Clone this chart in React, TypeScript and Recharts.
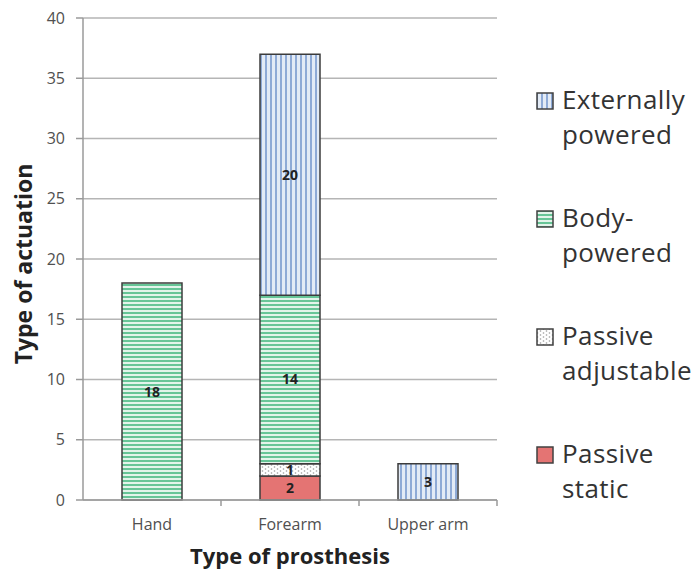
import React from 'react';
import { BarChart, Bar, XAxis, YAxis, CartesianGrid, LabelList, Label } from 'recharts';

const categories = ['Hand', 'Forearm', 'Upper arm'];
const passiveStatic = [0, 2, 0];
const passiveAdjustable = [0, 1, 0];
const bodyPowered = [18, 14, 0];
const externallyPowered = [0, 20, 3];
const yTicks = [0, 5, 10, 15, 20, 25, 30, 35, 40];

const data = categories.map((name, i) => ({
  name,
  passiveStatic: passiveStatic[i],
  passiveAdjustable: passiveAdjustable[i],
  bodyPowered: bodyPowered[i],
  externallyPowered: externallyPowered[i],
}));

const FONT = '"Open Sans", sans-serif';
const WIDTH = 694;
const HEIGHT = 575;
const X_HEIGHT = 75;
const MARGIN = { top: 18, right: 197, bottom: 0, left: 0 };
const Y_WIDTH = 83;
const BAND = (WIDTH - MARGIN.left - MARGIN.right - Y_WIDTH) / categories.length;

const series = [
  { key: 'externallyPowered', name: 'Externally powered', lines: ['Externally', 'powered'], fill: 'url(#patExternal)' },
  { key: 'bodyPowered', name: 'Body-powered', lines: ['Body-', 'powered'], fill: 'url(#patBody)' },
  { key: 'passiveAdjustable', name: 'Passive adjustable', lines: ['Passive', 'adjustable'], fill: 'url(#patAdjustable)' },
  { key: 'passiveStatic', name: 'Passive static', lines: ['Passive', 'static'], fill: '#e47473' },
];

const hideZero = (v: any) => (v ? v : '');

const XTick = (props: any) => {
  const { x, y, payload } = props;
  const edge = x + BAND / 2;
  return (
    <g>
      <line x1={edge} x2={edge} y1={y - 8} y2={y - 2} stroke="#9a9a9a" strokeWidth={1.5} />
      <text x={x} y={y + 22} textAnchor="middle" fontFamily={FONT} fontSize={16} fill="#505050">
        {payload.value}
      </text>
    </g>
  );
};

const LegendBox = () => (
  <div
    style={{
      position: 'absolute',
      left: 536,
      top: 82,
      fontFamily: FONT,
      fontSize: 26,
      color: '#333',
      lineHeight: '35px',
      letterSpacing: 0.4,
    }}
  >
    {series.map((s) => (
      <div key={s.key} style={{ display: 'flex', alignItems: 'flex-start', marginBottom: 48 }}>
        <svg width={18} height={18} style={{ marginTop: 10, marginRight: 8, flex: 'none' }}>
          <rect x={1} y={1} width={16} height={16} fill={s.fill} stroke="#404040" strokeWidth={1.5} />
        </svg>
        <div>
          {s.lines.map((l) => (
            <div key={l}>{l}</div>
          ))}
        </div>
      </div>
    ))}
  </div>
);

export default function App() {
  return (
    <div style={{ position: 'absolute', left: 0, top: 0, width: WIDTH, height: HEIGHT, background: '#fff' }}>
      <BarChart width={WIDTH} height={HEIGHT} data={data} margin={MARGIN} barSize={60}>
        <defs>
          <pattern id="patExternal" patternUnits="userSpaceOnUse" width={5} height={5}>
            <rect width={5} height={5} fill="#e3ebf6" />
            <rect x={0} width={2} height={5} fill="#8eaad6" />
          </pattern>
          <pattern id="patBody" patternUnits="userSpaceOnUse" width={5} height={4}>
            <rect width={5} height={4} fill="#e2f4ea" />
            <rect y={0} width={5} height={2} fill="#67c597" />
          </pattern>
          <pattern id="patAdjustable" patternUnits="userSpaceOnUse" width={6} height={4}>
            <rect width={6} height={4} fill="#ffffff" />
            <circle cx={1.5} cy={1} r={0.8} fill="#9a9a9a" />
            <circle cx={4.5} cy={3} r={0.8} fill="#9a9a9a" />
          </pattern>
        </defs>
        <CartesianGrid vertical={false} stroke="#b5b5b5" strokeWidth={1.5} />
        <XAxis
          dataKey="name"
          tick={<XTick />}
          tickLine={false}
          axisLine={{ stroke: '#9a9a9a', strokeWidth: 1.5 }}
          interval={0}
          height={X_HEIGHT}
        >
          <Label
            content={(p: any) => {
              const vb = p.viewBox;
              return (
                <text x={vb.x + vb.width / 2} y={vb.y + 64} textAnchor="middle" fontFamily={FONT} fontWeight="bold" fontSize={22} fill="#222">
                  Type of prosthesis
                </text>
              );
            }}
          />
        </XAxis>
        <YAxis
          width={Y_WIDTH}
          domain={[0, 40]}
          ticks={yTicks}
          interval={0}
          tickSize={7}
          tickMargin={11}
          tickLine={{ stroke: '#9a9a9a', strokeWidth: 1.5 }}
          axisLine={{ stroke: '#9a9a9a', strokeWidth: 1.5 }}
          tick={{ fontFamily: FONT, fontSize: 16, fill: '#505050' }}
        >
          <Label
            content={(p: any) => {
              const vb = p.viewBox;
              const cy = vb.y + vb.height / 2 + 5;
              return (
                <text x={32} y={cy} transform={`rotate(-90, 32, ${cy})`} textAnchor="middle" fontFamily={FONT} fontWeight="bold" fontSize={23} fill="#222">
                  Type of actuation
                </text>
              );
            }}
          />
        </YAxis>
        {[...series].reverse().map((s) => (
          <Bar
            key={s.key}
            dataKey={s.key}
            name={s.name}
            stackId="a"
            fill={s.fill}
            stroke="#3c3c3c"
            strokeWidth={1.5}
            isAnimationActive={false}
          >
            <LabelList
              dataKey={s.key}
              position="center"
              formatter={hideZero}
              style={{ fontFamily: FONT, fontWeight: 'bold', fontSize: 14, fill: '#222' }}
            />
          </Bar>
        ))}
      </BarChart>
      <LegendBox />
    </div>
  );
}
